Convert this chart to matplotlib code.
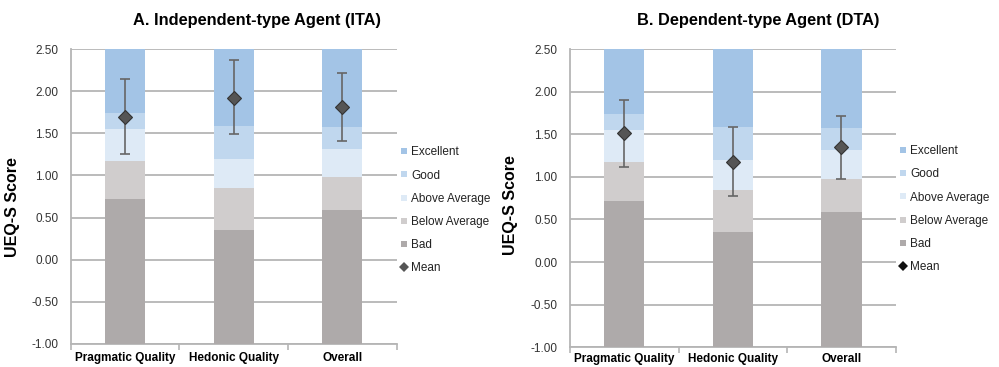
import matplotlib
matplotlib.use("Agg")
import matplotlib.pyplot as plt
from matplotlib.lines import Line2D
import numpy as np

plt.rcParams["font.family"] = ["Liberation Sans", "DejaVu Sans"]

categories = ["Pragmatic Quality", "Hedonic Quality", "Overall"]
# UEQ-S benchmark upper bounds for each class
bad_upper = [0.72, 0.35, 0.59]
below_upper = [1.17, 0.85, 0.98]
above_upper = [1.55, 1.20, 1.31]
good_upper = [1.74, 1.59, 1.58]
excellent_upper = [2.50, 2.50, 2.50]
axis_min = -1.00

ita_mean = [1.70, 1.92, 1.81]
ita_low = [1.26, 1.49, 1.41]
ita_high = [2.14, 2.37, 2.22]

dta_mean = [1.51, 1.18, 1.35]
dta_low = [1.12, 0.78, 0.98]
dta_high = [1.90, 1.59, 1.71]

titles = ["A. Independent-type Agent (ITA)", "B. Dependent-type Agent (DTA)"]
class_names = ["Excellent", "Good", "Above Average", "Below Average", "Bad"]
class_colors = ["#A3C4E6", "#C0D7EE", "#DEEAF6", "#D0CDCD", "#AEAAAA"]
yticks = [-1.0, -0.5, 0.0, 0.5, 1.0, 1.5, 2.0, 2.5]

fig = plt.figure(figsize=(9.99, 3.67), dpi=100)
ax_pos = [[0.071, 0.0627, 0.326, 0.8035], [0.5706, 0.054, 0.326, 0.812]]
title_x = [257 / 999, 758 / 999]
ylabel_xy = [(-0.156, 0.464), (-0.16, 0.477)]
legend_y = [0.453, 0.463]
xtick_pad = [6, 4]
means = [ita_mean, dta_mean]
lows = [ita_low, dta_low]
highs = [ita_high, dta_high]
mean_legend_colors = ["#555555", "#111111"]

uppers = [bad_upper, below_upper, above_upper, good_upper, excellent_upper]
stack_colors = class_colors[::-1]
grid_c = "#B5B5B5"

for i in range(2):
    ax = fig.add_axes(ax_pos[i])
    x = np.arange(len(categories))
    bottom = np.full(len(categories), axis_min)
    for up, col in zip(uppers, stack_colors):
        up = np.array(up)
        ax.bar(x, up - bottom, bottom=bottom, width=0.37, color=col, zorder=3, linewidth=0)
        bottom = up
    m = np.array(means[i])
    lo = m - np.array(lows[i])
    hi = np.array(highs[i]) - m
    ax.errorbar(x, m, yerr=[lo, hi], fmt="none", ecolor="#666666", elinewidth=1.2,
                capsize=3.5, capthick=1.2, zorder=4)
    ax.plot(x, m, linestyle="none", marker="D", markersize=7, color="#555555",
            markeredgecolor="#333333", markeredgewidth=0.8, zorder=5)
    ax.set_xlim(-0.5, 2.5)
    ax.set_ylim(-1.0, 2.5)
    ax.set_yticks(yticks)
    ax.set_yticklabels([f"{v:.2f}" for v in yticks], fontsize=8.5, color="#333333")
    ax.yaxis.grid(True, color=grid_c, linewidth=1.3, zorder=0)
    ax.set_axisbelow(True)
    ax.tick_params(axis="y", length=0, pad=9)
    ax.set_xticks(x)
    ax.set_xticklabels(categories, fontsize=8.5, fontweight="bold")
    ax.tick_params(axis="x", length=0, pad=xtick_pad[i])
    ax.set_xticks([-0.5, 0.5, 1.5, 2.5], minor=True)
    ax.tick_params(axis="x", which="minor", length=4, color=grid_c, width=1.2)
    for s in ["top", "right"]:
        ax.spines[s].set_visible(False)
    for s in ["left", "bottom"]:
        ax.spines[s].set_color(grid_c)
        ax.spines[s].set_linewidth(1.3)
    ax.set_ylabel("UEQ-S Score", fontsize=11.5, fontweight="bold")
    ax.yaxis.set_label_coords(*ylabel_xy[i])
    fig.text(title_x[i], 1 - 20 / 367, titles[i], fontsize=11.8, fontweight="bold",
             ha="center", va="center")

    handles = [Line2D([], [], linestyle="none", marker="s", markersize=5,
                      color=c, markeredgewidth=0) for c in class_colors]
    handles.append(Line2D([], [], linestyle="none", marker="D", markersize=5,
                          color=mean_legend_colors[i], markeredgewidth=0))
    labels = class_names + ["Mean"]
    ax.legend(handles, labels, loc="center left", bbox_to_anchor=(0.98, legend_y[i]),
              frameon=False, fontsize=8.5, handlelength=0.6, handletextpad=0.3,
              labelspacing=0.95, labelcolor="#222222")

fig.savefig("out.png", dpi=100)
